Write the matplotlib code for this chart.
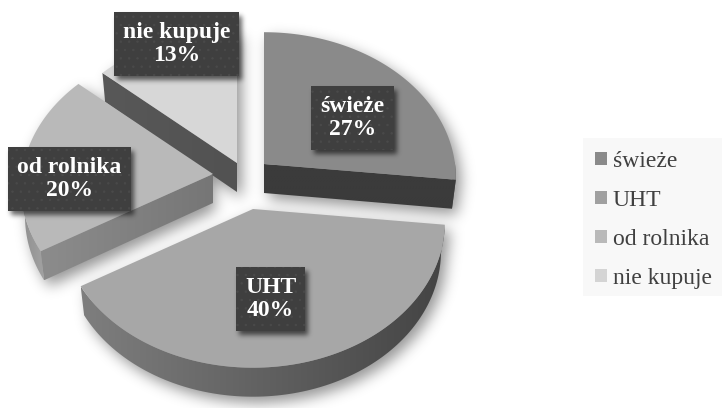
import numpy as np
import matplotlib
matplotlib.use("Agg")
from matplotlib import pyplot as plt
from matplotlib.path import Path
from matplotlib.patches import Polygon, Rectangle, Patch

categories = ["świeże", "UHT", "od rolnika", "nie kupuje"]
shares = [27, 40, 20, 13]

top_colors = ["#8a8a8a", "#a7a7a7", "#b9b9b9", "#d7d7d7"]
legend_colors = ["#8a8a8a", "#a0a0a0", "#b9b9b9", "#d4d4d4"]
# pixel position of each slice tip (exploded pie)
apex = [(264, 164), (253, 209), (213, 174), (237, 163)]
# label boxes: left, top, right, bottom
boxes = [(311, 86, 394, 150), (236, 267, 305, 331), (8, 147, 131, 211), (114, 12, 239, 76)]
# left/right grey of the rim and of the cut face
rim_grad = [("#555555", "#555555"), ("#7e7e7e", "#444444"), ("#8e8e8e", "#a2a2a2"), ("#777777", "#777777")]
face_grad = [("#3b3b3b", "#3b3b3b"), ("#555555", "#555555"), ("#8c8c8c", "#767676"), ("#585858", "#525252")]

W, H = 722, 408
RX, RY, K, DEPTH, TAPER = 191.0, 144.0, 0.0926, 29.0, 0.02
serif = "Liberation Serif"


def project(slice_i, theta, r=1.0, z=0.0):
    sn = np.sin(np.radians(theta))
    # the 3d view skews the angles a bit, more on the left side
    t = np.radians(theta + np.where(sn > 0, -1.0, 2.2) * sn)
    x = r * np.sin(t)
    y = -r * np.cos(t)
    s = 1 / (1 - K * y)
    return np.column_stack([apex[slice_i][0] + RX * x * s * (1 - TAPER * z),
                            apex[slice_i][1] + RY * y * s + DEPTH * z])


def gauss_blur(a, sigma):
    n = int(sigma * 3)
    k = np.exp(-0.5 * (np.arange(-n, n + 1) / sigma) ** 2)
    k = k / k.sum()
    a = np.apply_along_axis(lambda v: np.convolve(v, k, mode="same"), 0, a)
    a = np.apply_along_axis(lambda v: np.convolve(v, k, mode="same"), 1, a)
    return a


def fill_grad(ax, pts, c_left, c_right, zorder):
    poly = Polygon(pts, closed=True, facecolor="none", edgecolor="none", zorder=zorder)
    ax.add_patch(poly)
    c1 = np.array(matplotlib.colors.to_rgb(c_left))
    c2 = np.array(matplotlib.colors.to_rgb(c_right))
    u = np.linspace(0, 1, 64)[None, :, None]
    img = c1 + (c2 - c1) * u
    x0, x1 = pts[:, 0].min(), pts[:, 0].max()
    y0, y1 = pts[:, 1].min(), pts[:, 1].max()
    im = ax.imshow(img, extent=(x0, x1, y1, y0), aspect="auto", zorder=zorder, interpolation="bilinear")
    im.set_clip_path(poly)


def shadow_layer(ax, mask, dx, dy, sigma, alpha, zorder):
    mask = np.roll(np.roll(mask, dy, axis=0), dx, axis=1)
    blur = gauss_blur(mask.astype(float), sigma)
    img = np.zeros((H, W, 4))
    img[..., 3] = blur * alpha
    ax.imshow(img, extent=(0, W, H, 0), aspect="auto", zorder=zorder, interpolation="bilinear")


fig = plt.figure(figsize=(W / 100, H / 100), dpi=100, facecolor="white")
ax = fig.add_axes([0, 0, 1, 1])

edges = np.concatenate([[0], np.cumsum(shares)]) * 3.6

gx, gy = np.meshgrid(np.arange(W) + 0.5, np.arange(H) + 0.5)
grid = np.column_stack([gx.ravel(), gy.ravel()])

# slice shadows, under all the slices
mask = np.zeros((H, W), dtype=bool)
for i in range(len(shares)):
    th = np.linspace(edges[i], edges[i + 1], 80)
    for z in [0, 0.25, 0.5, 0.75, 1]:
        pts = np.vstack([project(i, 0, 0, z), project(i, th, 1, z)])
        mask |= Path(pts).contains_points(grid).reshape(H, W)
shadow_layer(ax, mask, 5, 6, 7, 0.42, 1)

# back to front
for i in [0, 3, 2, 1]:
    a, b = edges[i], edges[i + 1]
    th = np.linspace(a, b, 120)

    # outer rim, only the part turned to the viewer
    lo, hi = max(a, 90), min(b, 270)
    if hi > lo:
        tr = np.linspace(lo, hi, 120)
        rim = np.vstack([project(i, tr, 1, 0), project(i, tr[::-1], 1, 1)])
        fill_grad(ax, rim, rim_grad[i][0], rim_grad[i][1], 2 + i * 0.1)

    # cut faces turned to the viewer
    for ang, show in [(a, a > 180), (b, b < 180)]:
        if show:
            face = np.vstack([project(i, ang, 0, 0), project(i, ang, 1, 0),
                              project(i, ang, 1, 1), project(i, ang, 0, 1)])
            fill_grad(ax, face, face_grad[i][0], face_grad[i][1], 2 + i * 0.1)

    top = np.vstack([project(i, a, 0, 0), project(i, th, 1, 0)])
    ax.add_patch(Polygon(top, closed=True, facecolor=top_colors[i], edgecolor="none", zorder=2.5 + i * 0.1))

# label boxes
box_mask = np.zeros((H, W), dtype=bool)
for (x0, y0, x1, y1) in boxes:
    box_mask[y0:y1, x0:x1] = True
shadow_layer(ax, box_mask, 3, 4, 2.5, 0.6, 4)

plt.rcParams["hatch.linewidth"] = 0.5
for i, (x0, y0, x1, y1) in enumerate(boxes):
    ax.add_patch(Rectangle((x0, y0), x1 - x0, y1 - y0, facecolor="#3f3f3f", edgecolor="#4a4a4a",
                           hatch="..", linewidth=0, zorder=5))
    ax.text((x0 + x1) / 2, (y0 + y1) / 2, f"{categories[i]}\n{shares[i]}%", color="white",
            family=serif, weight="bold", fontsize=17, ha="center", va="center",
            linespacing=1.18, zorder=6)

# legend
ax.add_patch(Rectangle((583, 138), W - 583, 158, facecolor="#f8f8f8", edgecolor="none", zorder=1.5))
handles = [Patch(facecolor=c, edgecolor="none") for c in legend_colors]
leg = ax.legend(handles, categories, loc="upper left", bbox_to_anchor=(595 / W, 1 - 151 / H),
                frameon=False, prop={"family": serif, "size": 17}, labelcolor="#404040",
                handlelength=0.51, handleheight=0.51, handletextpad=0.24,
                labelspacing=0.76, borderpad=0, borderaxespad=0)
leg.set_zorder(7)

ax.set_xlim(0, W)
ax.set_ylim(H, 0)
ax.axis("off")

fig.savefig("out.png", dpi=100, facecolor="white")
